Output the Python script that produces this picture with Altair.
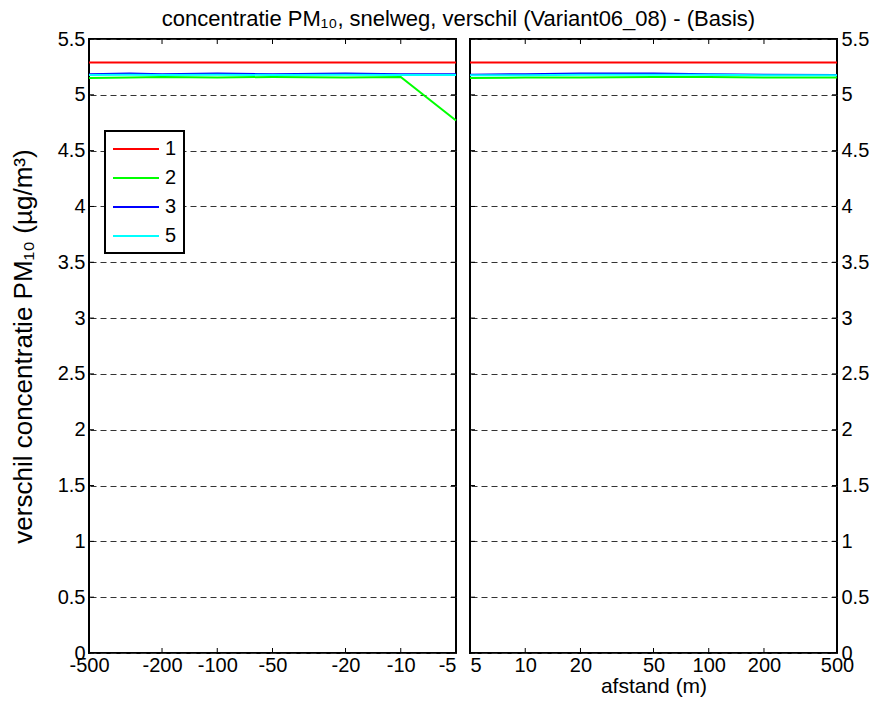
import altair as alt
import pandas as pd

FONT = "Liberation Sans"

series = ["1", "2", "3", "5"]
colors = ["#ff0000", "#00ff00", "#0000ff", "#00ffff"]

# left panel: distance (m, absolute) on the negative side
left_d = [500, 300, 200, 100, 50, 20, 10, 5]
left_s1 = [5.29, 5.29, 5.29, 5.29, 5.29, 5.29, 5.29, 5.29]
left_s2 = [5.15, 5.155, 5.16, 5.155, 5.16, 5.155, 5.16, 4.77]
left_s3 = [5.185, 5.19, 5.185, 5.19, 5.185, 5.19, 5.185, 5.185]
left_s5 = [5.178, 5.18, 5.178, 5.18, 5.178, 5.18, 5.178, 5.178]

# right panel: positive side
right_d = [5, 10, 20, 50, 100, 200, 500]
right_s1 = [5.29, 5.29, 5.29, 5.29, 5.29, 5.29, 5.29]
right_s2 = [5.15, 5.155, 5.155, 5.16, 5.16, 5.155, 5.155]
right_s3 = [5.18, 5.185, 5.19, 5.19, 5.185, 5.18, 5.178]
right_s5 = [5.175, 5.175, 5.18, 5.18, 5.18, 5.175, 5.175]

x_ticks = [5, 10, 20, 50, 100, 200, 500]
y_ticks = [0, 0.5, 1, 1.5, 2, 2.5, 3, 3.5, 4, 4.5, 5, 5.5]

title_text = "concentratie PM\u2081\u2080, snelweg, verschil (Variant06_08) - (Basis)"
y_title = "verschil concentratie PM\u2081\u2080 (\u00b5g/m\u00b3)"


def long_df(d, cols):
    rows = []
    for s, vals in zip(series, cols):
        for xi, vi in zip(d, vals):
            rows.append({"d": xi, "v": vi, "s": s})
    return pd.DataFrame(rows)


df_left = long_df(left_d, [left_s1, left_s2, left_s3, left_s5])
df_right = long_df(right_d, [right_s1, right_s2, right_s3, right_s5])
df_xt = pd.DataFrame({"d": x_ticks})
df_yt = pd.DataFrame({"v": y_ticks})

W = 367
H = 614

yscale = alt.Scale(domain=[0, 5.5], nice=False, zero=False)


def panel(df, side):
    left = side == "left"
    xaxis = alt.Axis(
        values=x_ticks,
        labelExpr=("'-' + datum.value" if left else "'' + datum.value"),
        labelAlign=alt.expr(
            "datum.value == 5 ? 'right' : 'center'" if left else "datum.value == 5 ? 'left' : 'center'"
        ),
        title=None if left else "afstand (m)",
        titleFontSize=21, titleFontWeight="normal", titleFont=FONT,
        titlePadding=0,
        tickSize=0, domain=False, grid=False,
        labelFontSize=20, labelFont=FONT, labelPadding=2,
        labelOverlap=False, labelFlush=False, labelBound=False,
    )
    xscale = alt.Scale(type="log", domain=[5, 500], reverse=left, nice=False)
    yaxis = alt.Axis(
        values=y_ticks, format="~g", orient="left" if left else "right",
        grid=True, gridDash=[6, 4], gridColor="#333333", gridWidth=1,
        tickSize=0, domain=False, labelFontSize=20, labelFont=FONT,
        labelPadding=4,
        title=y_title if left else None,
        titleFontSize=26, titleFontWeight="normal", titleFont=FONT,
        titlePadding=21,
    )
    X = alt.X("d:Q", scale=xscale, axis=xaxis)
    Y = alt.Y("v:Q", scale=yscale, axis=yaxis)
    legend = None
    if left:
        legend = alt.Legend(
            orient="none", legendX=16, legendY=92, title=None,
            strokeColor="black", fillColor="white", padding=7,
            symbolType="M-1,0H3.6", symbolSize=400, symbolStrokeWidth=2,
            labelFontSize=20, labelFont=FONT, labelOffset=31,
            rowPadding=8, labelColor="black",
        )
    lines = alt.Chart(df).mark_line(strokeWidth=2).encode(
        x=X, y=Y,
        color=alt.Color("s:N", scale=alt.Scale(domain=series, range=colors), legend=legend),
    )
    yt = alt.Chart(df_yt)
    xt = alt.Chart(df_xt)
    t1 = yt.mark_rule(color="black", strokeWidth=1).encode(y=Y, x=alt.value(0), x2=alt.value(5))
    t2 = yt.mark_rule(color="black", strokeWidth=1).encode(y=Y, x=alt.value(W - 5), x2=alt.value(W))
    t3 = xt.mark_rule(color="black", strokeWidth=1).encode(x=X, y=alt.value(0), y2=alt.value(5))
    t4 = xt.mark_rule(color="black", strokeWidth=1).encode(x=X, y=alt.value(H - 5), y2=alt.value(H))
    return alt.layer(t1, t2, t3, t4, lines).properties(width=W, height=H)


chart = alt.hconcat(panel(df_left, "left"), panel(df_right, "right"), spacing=4).resolve_legend(
    color="independent"
).properties(
    title=alt.TitleParams(title_text, fontSize=22, fontWeight="normal", font=FONT, anchor="middle",
                          offset=-3, dx=19, color="black"),
    padding={"left": 9, "top": 8, "right": 0, "bottom": 0},
).configure_view(stroke="black", strokeWidth=2).configure_legend(strokeWidth=2).configure_axis(
    labelColor="black", titleColor="black"
)

chart.save("out.html", embed_options={"renderer": "svg", "actions": False})
